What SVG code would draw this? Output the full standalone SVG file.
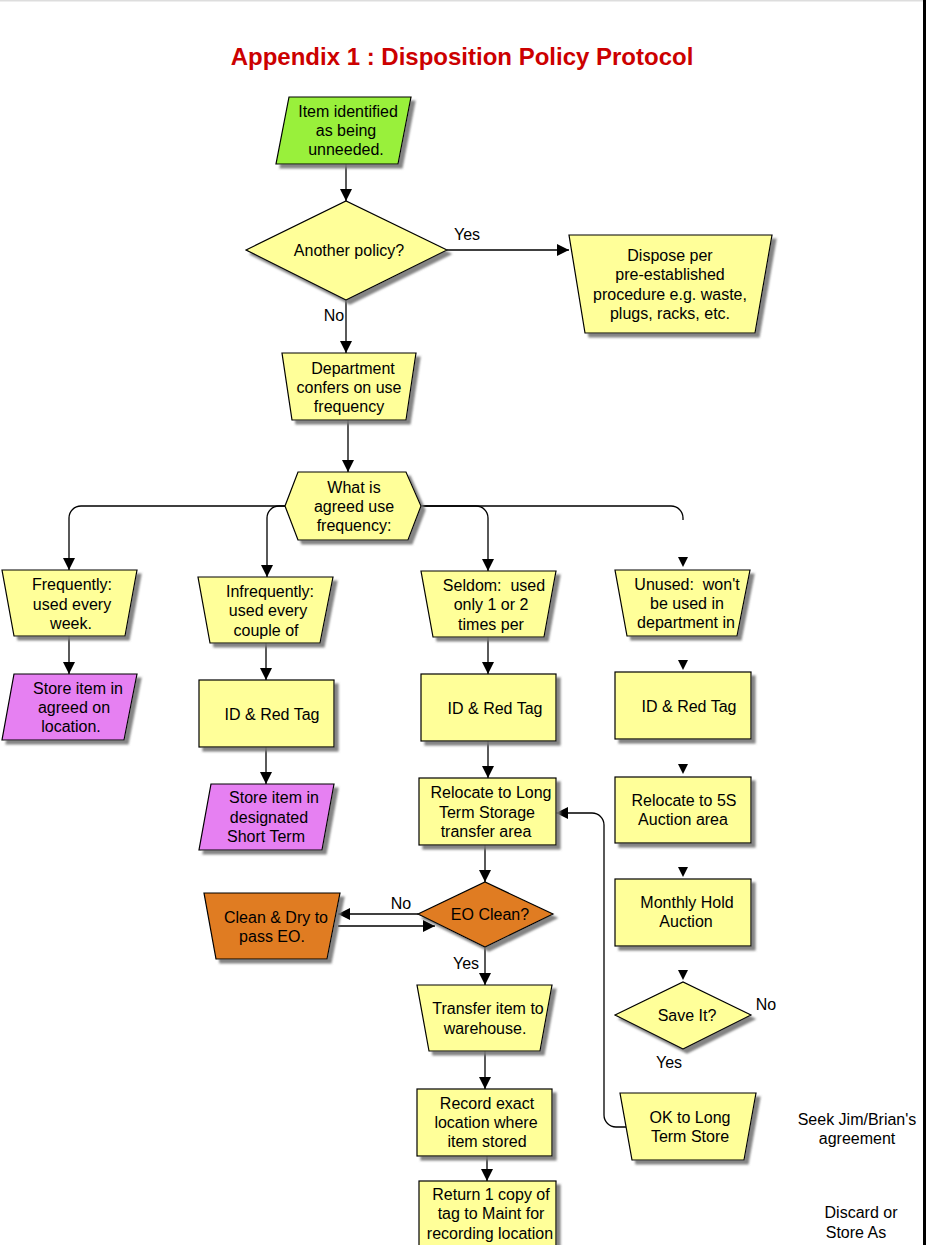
<svg xmlns="http://www.w3.org/2000/svg" width="926" height="1245" viewBox="0 0 926 1245">
<defs>
<style>
.t{font-family:"Liberation Sans",Arial,sans-serif;font-size:16px;text-anchor:middle;fill:#000}
.lb{font-family:"Liberation Sans",Arial,sans-serif;font-size:16px;text-anchor:middle;fill:#000}
.s{stroke:#000;stroke-width:1.2;filter:url(#sh)}
.y{fill:#ffff99}
.g{fill:#99f03a}
.p{fill:#e680f2}
.o{fill:#e07c20}
.c{fill:none;stroke:#000;stroke-width:1.3;marker-end:url(#ah)}
.cn{fill:none;stroke:#000;stroke-width:1.3}
.h{fill:#000}
</style>
<filter id="sh" x="-10%" y="-10%" width="130%" height="130%">
<feDropShadow dx="4" dy="4" stdDeviation="0.8" flood-color="#777" flood-opacity="0.9"/>
</filter>
<marker id="ah" markerUnits="userSpaceOnUse" markerWidth="12" markerHeight="12" refX="10" refY="5" orient="auto" viewBox="0 0 10 10">
<path d="M0,0 L10,5 L0,10 z" fill="#000"/>
</marker>
</defs>
<rect x="0" y="0" width="926" height="1245" fill="#fff"/>
<rect x="0" y="0" width="926" height="1.5" fill="#ddd"/>
<rect x="923" y="0" width="3" height="1245" fill="#000"/>
<text x="462" y="65" style="font-family:'Liberation Sans',Arial,sans-serif;font-size:24px;font-weight:bold;fill:#cc0000;text-anchor:middle">Appendix 1 : Disposition Policy Protocol</text>

<g id="connectors">
<path class="c" d="M346,164 V201"/>
<path class="c" d="M447,250 H569"/>
<path class="c" d="M346,300 V353"/>
<path class="c" d="M348,420 V472"/>
<path class="c" d="M285,506 H81 A12,12 0 0 0 69,518 V570"/>
<path class="c" d="M285,506 H279 A12,12 0 0 0 267,518 V577"/>
<path class="c" d="M421,506 H476 A12,12 0 0 1 488,518 V571"/>
<path class="cn" d="M421,506 H671 A12,12 0 0 1 683,518 V520"/>
<path class="c" d="M69,636 V674"/>
<path class="c" d="M266,643 V680"/>
<path class="c" d="M266,747 V784"/>
<path class="c" d="M488,637 V674"/>
<path class="c" d="M488,741 V778"/>
<path class="c" d="M485,845 V882"/>
<path class="c" d="M418,914 H338"/>
<path class="c" d="M338,926 H435"/>
<path class="c" d="M485,947 V985"/>
<path class="c" d="M485,1051 V1089"/>
<path class="c" d="M487,1156 V1181"/>
<path class="c" d="M626,1127 H616 A12,12 0 0 1 604,1115 V825 A12,12 0 0 0 592,813 H556"/>
<polygon class="h" points="678,557 688,557 683,567"/>
<polygon class="h" points="678,660 688,660 683,670"/>
<polygon class="h" points="678,764 688,764 683,774"/>
<polygon class="h" points="678,867 688,867 683,877"/>
<polygon class="h" points="678,970 688,970 683,980"/>
<text class="lb" x="467" y="240">Yes</text>
<text class="lb" x="334" y="321">No</text>
<text class="lb" x="401" y="909">No</text>
<text class="lb" x="466" y="969">Yes</text>
<text class="lb" x="766" y="1010">No</text>
<text class="lb" x="669" y="1068">Yes</text>
</g>

<g id="n-start">
<polygon class="s g" points="289,97 411,97 398,164 276,164"/>
<text class="t"><tspan x="348" y="117">Item identified</tspan><tspan x="346" y="136">as being</tspan><tspan x="346" y="155">unneeded.</tspan></text>
</g>
<g id="n-policy">
<polygon class="s y" points="246,250 346,201 447,250 346,300"/>
<text class="t" x="349" y="256">Another policy?</text>
</g>
<g id="n-dispose">
<polygon class="s y" points="569,235 772,235 755,333 585,333"/>
<text class="t"><tspan x="670" y="261">Dispose per</tspan><tspan x="670" y="280">pre-established</tspan><tspan x="670" y="300">procedure e.g. waste,</tspan><tspan x="670" y="319">plugs, racks, etc.</tspan></text>
</g>
<g id="n-dept">
<polygon class="s y" points="282,353 416,353 406,420 292,420"/>
<text class="t"><tspan x="353" y="374">Department</tspan><tspan x="349" y="393">confers on use</tspan><tspan x="349" y="412">frequency</tspan></text>
</g>
<g id="n-freq">
<polygon class="s y" points="285,506 298,472 406,472 421,506 408,540 298,540"/>
<text class="t"><tspan x="354" y="493">What is</tspan><tspan x="354" y="512">agreed use</tspan><tspan x="354" y="531">frequency:</tspan></text>
</g>

<g id="n-frequently">
<polygon class="s y" points="2,570 137,570 125,636 14,636"/>
<text class="t"><tspan x="72" y="590">Frequently:</tspan><tspan x="72" y="610">used every</tspan><tspan x="71" y="629">week.</tspan></text>
</g>
<g id="n-store1">
<polygon class="s p" points="14,674 137,674 124,740 2,740"/>
<text class="t"><tspan x="78" y="694">Store item in</tspan><tspan x="74" y="713">agreed on</tspan><tspan x="71" y="732">location.</tspan></text>
</g>

<g id="n-infrequently">
<polygon class="s y" points="198,577 333,577 320,643 210,643"/>
<text class="t"><tspan x="270" y="597">Infrequently:</tspan><tspan x="268" y="616">used every</tspan><tspan x="266" y="636">couple of</tspan></text>
</g>
<g id="n-tag1">
<rect class="s y" x="199" y="680" width="135" height="67"/>
<text class="t" x="272" y="720">ID &amp; Red Tag</text>
</g>
<g id="n-store2">
<polygon class="s p" points="211,784 334,784 322,850 199,850"/>
<text class="t"><tspan x="274" y="803">Store item in</tspan><tspan x="269" y="823">designated</tspan><tspan x="266" y="842">Short Term</tspan></text>
</g>

<g id="n-seldom">
<polygon class="s y" points="421,571 556,571 544,637 433,637"/>
<text class="t"><tspan x="494" y="591">Seldom:&#160; used</tspan><tspan x="491" y="610">only 1 or 2</tspan><tspan x="491" y="630">times per</tspan></text>
</g>
<g id="n-tag2">
<rect class="s y" x="421" y="674" width="135" height="67"/>
<text class="t" x="495" y="714">ID &amp; Red Tag</text>
</g>
<g id="n-relocate-lt">
<rect class="s y" x="419" y="778" width="137" height="67"/>
<text class="t"><tspan x="491" y="798">Relocate to Long</tspan><tspan x="487" y="818">Term Storage</tspan><tspan x="486" y="837">transfer area</tspan></text>
</g>
<g id="n-eo">
<polygon class="s o" points="418,914 485,882 553,914 485,947"/>
<text class="t" x="490" y="920">EO Clean?</text>
</g>
<g id="n-clean">
<polygon class="s o" points="204,893 340,893 327,959 216,959"/>
<text class="t"><tspan x="276" y="923">Clean &amp; Dry to</tspan><tspan x="272" y="942">pass EO.</tspan></text>
</g>
<g id="n-transfer">
<polygon class="s y" points="417,985 552,985 540,1051 429,1051"/>
<text class="t"><tspan x="488" y="1014">Transfer item to</tspan><tspan x="485" y="1034">warehouse.</tspan></text>
</g>
<g id="n-record">
<rect class="s y" x="417" y="1089" width="135" height="67"/>
<text class="t"><tspan x="487" y="1109">Record exact</tspan><tspan x="486" y="1128">location where</tspan><tspan x="487" y="1147">item stored</tspan></text>
</g>
<g id="n-return">
<rect class="s y" x="419" y="1181" width="137" height="80"/>
<text class="t"><tspan x="491" y="1200">Return 1 copy of</tspan><tspan x="491" y="1219">tag to Maint for</tspan><tspan x="490" y="1239">recording location</tspan></text>
</g>

<g id="n-unused">
<polygon class="s y" points="615,570 750,570 737,636 627,636"/>
<text class="t"><tspan x="687" y="590">Unused:&#160; won't</tspan><tspan x="687" y="609">be used in</tspan><tspan x="686" y="628">department in</tspan></text>
</g>
<g id="n-tag3">
<rect class="s y" x="615" y="672" width="136" height="67"/>
<text class="t" x="689" y="712">ID &amp; Red Tag</text>
</g>
<g id="n-relocate-5s">
<rect class="s y" x="615" y="777" width="136" height="66"/>
<text class="t"><tspan x="684" y="806">Relocate to 5S</tspan><tspan x="683" y="825">Auction area</tspan></text>
</g>
<g id="n-auction">
<rect class="s y" x="615" y="879" width="136" height="67"/>
<text class="t"><tspan x="687" y="908">Monthly Hold</tspan><tspan x="686" y="927">Auction</tspan></text>
</g>
<g id="n-save">
<polygon class="s y" points="615,1015 683,982 751,1015 683,1049"/>
<text class="t" x="687" y="1021">Save It?</text>
</g>
<g id="n-ok">
<polygon class="s y" points="620,1093 756,1093 744,1160 632,1160"/>
<text class="t"><tspan x="690" y="1123">OK to Long</tspan><tspan x="690" y="1142">Term Store</tspan></text>
</g>
<g id="n-notes">
<text class="t"><tspan x="857" y="1125">Seek Jim/Brian's</tspan><tspan x="857" y="1144">agreement</tspan></text>
<text class="t"><tspan x="861" y="1218">Discard or</tspan><tspan x="856" y="1238">Store As</tspan></text>
</g>
</svg>
